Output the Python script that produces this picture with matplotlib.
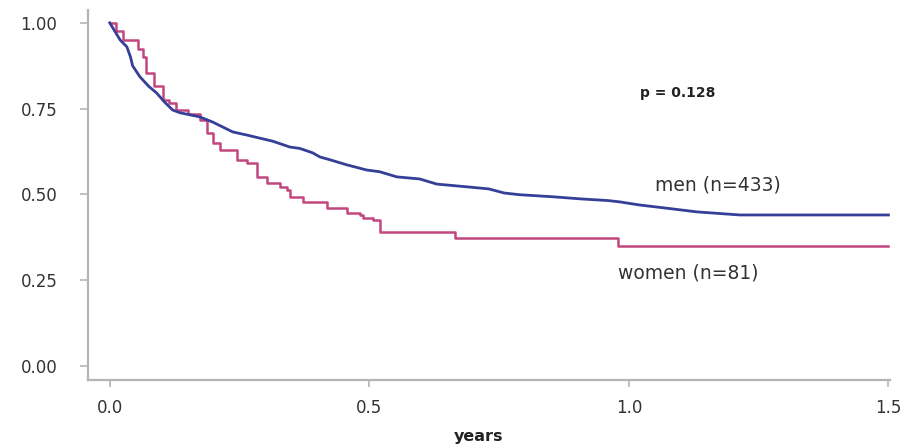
import matplotlib
matplotlib.use("Agg")
import matplotlib.pyplot as plt

# survival curves (time in years, survival probability)
men_t = [0.000, 0.010, 0.020, 0.033, 0.040, 0.044, 0.058, 0.075, 0.090, 0.105,
         0.121, 0.135, 0.173, 0.198, 0.237, 0.264, 0.300, 0.314, 0.347, 0.366,
         0.391, 0.405, 0.424, 0.457, 0.495, 0.520, 0.553, 0.597, 0.630, 0.688,
         0.730, 0.760, 0.790, 0.854, 0.906, 0.960, 0.983, 1.021, 1.066, 1.131,
         1.214, 1.500]
men_s = [1.000, 0.975, 0.950, 0.930, 0.900, 0.875, 0.843, 0.815, 0.796, 0.770,
         0.746, 0.738, 0.726, 0.711, 0.682, 0.673, 0.660, 0.655, 0.638, 0.634,
         0.621, 0.609, 0.601, 0.586, 0.571, 0.566, 0.551, 0.545, 0.530, 0.522,
         0.516, 0.504, 0.499, 0.493, 0.487, 0.482, 0.478, 0.469, 0.461, 0.449,
         0.440, 0.440]

women_t = [0.000, 0.012, 0.025, 0.044, 0.054, 0.064, 0.070, 0.085, 0.102, 0.115,
           0.121, 0.128, 0.150, 0.173, 0.187, 0.198, 0.212, 0.245, 0.264, 0.283,
           0.302, 0.328, 0.341, 0.347, 0.372, 0.418, 0.457, 0.482, 0.487, 0.507,
           0.520, 0.665, 0.979, 1.500]
women_s = [1.000, 0.975, 0.950, 0.950, 0.925, 0.901, 0.854, 0.815, 0.776, 0.767,
           0.767, 0.746, 0.733, 0.717, 0.679, 0.650, 0.630, 0.601, 0.592, 0.551,
           0.534, 0.522, 0.513, 0.493, 0.478, 0.461, 0.446, 0.440, 0.431, 0.426,
           0.391, 0.373, 0.350, 0.350]

x_ticks = [0.0, 0.5, 1.0, 1.5]
y_ticks = [0.00, 0.25, 0.50, 0.75, 1.00]

plt.rcParams['font.family'] = 'DejaVu Sans'

fig = plt.figure(figsize=(9.04, 4.46), dpi=100)
ax = fig.add_axes([0.0973, 0.148, 0.8872, 0.83])

ax.step(women_t, women_s, where='post', color='#c2467f', lw=1.8)
ax.plot(men_t, men_s, color='#353f98', lw=2.0)

ax.set_xlim(-0.042, 1.503)
ax.set_ylim(-0.041, 1.038)

ax.set_xticks(x_ticks)
ax.set_xticklabels(['%.1f' % v for v in x_ticks])
ax.set_yticks(y_ticks)
ax.set_yticklabels(['%.2f' % v for v in y_ticks])

for side in ['top', 'right']:
    ax.spines[side].set_visible(False)
for side in ['left', 'bottom']:
    ax.spines[side].set_color('#b4b4b4')
    ax.spines[side].set_linewidth(1.6)

ax.tick_params(axis='y', colors='#b4b4b4', labelcolor='#333333', labelsize=12,
               length=6, width=1.2, pad=16)
ax.tick_params(axis='x', colors='#b4b4b4', labelcolor='#333333', labelsize=12,
               length=5, width=1.2, pad=9)

ax.text(1.021, 0.796, 'p = 0.128', fontsize=10, fontweight='bold',
        color='#222222', va='center', ha='left')
ax.text(1.050, 0.528, 'men (n=433)', fontsize=13.5, color='#333333',
        va='center', ha='left')
ax.text(0.979, 0.271, 'women (n=81)', fontsize=13.5, color='#333333',
        va='center', ha='left')

fig.text(479 / 904, 1 - 437 / 446, 'years', fontsize=11.5, fontweight='bold',
         color='#222222', ha='center', va='center')

fig.savefig('out.png', dpi=100)
